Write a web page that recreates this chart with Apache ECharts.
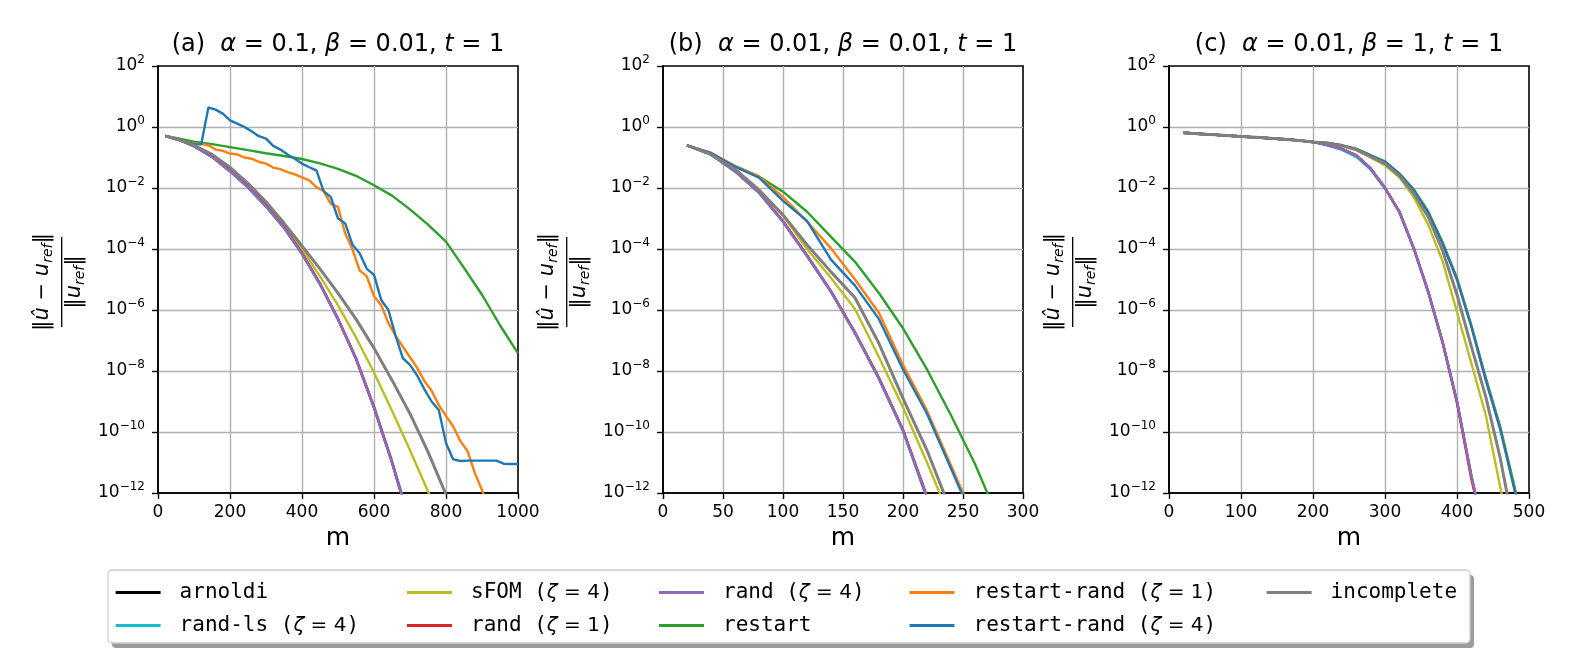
<!DOCTYPE html>
<html><head><meta charset="utf-8">
<script src="https://cdn.jsdelivr.net/npm/echarts@6/dist/echarts.min.js"></script>
<style>html,body{margin:0;padding:0;background:#fff}#c{width:1578px;height:658px}</style>
</head><body><div id="c"></div>
<script>
// ---------- data (y values are log10 of the relative error) ----------
const names = ['arnoldi','rand-ls (ζ=4)','sFOM (ζ=4)','rand (ζ=1)','rand (ζ=4)','restart','restart-rand (ζ=1)','restart-rand (ζ=4)','incomplete'];
const colors = ['#000000','#17becf','#bcbd22','#d62728','#9467bd','#2ca02c','#ff7f0e','#1f77b4','#7f7f7f'];
const titles = [['(a)','0.1','0.01'],['(b)','0.01','0.01'],['(c)','0.01','1']];
const xMax = [1000,300,500];
const xStep = [200,50,100];
const yExpTicks = [-12,-10,-8,-6,-4,-2,0,2];

// panel (a)
const mA = [20,60,100,150,200,250,300,350,400,450,500,550,600,650,700,750,800,850,900,950,1000];
const mA20 = [20,40,60,80,100,120,140,160,180,200,220,240,260,280,300,320,340,360,380,400,420,440,460,480,500,520,540,560,580,600,620,640,660,680,700,720,740,760,780,800,820,840,860,880,900,920,940,960,980,1000];
const a_arnoldi = [-0.29,-0.43,-0.63,-0.98,-1.45,-1.98,-2.6,-3.3,-4.15,-5.15,-6.3,-7.6,-9.2,-11.0,-13.0];
const a_randls  = [-0.29,-0.43,-0.63,-0.98,-1.45,-1.99,-2.61,-3.31,-4.16,-5.16,-6.3,-7.59,-9.17,-10.95,-12.9];
const a_sfom    = [-0.29,-0.42,-0.61,-0.93,-1.38,-1.92,-2.52,-3.22,-4.0,-4.9,-5.85,-6.9,-8.05,-9.3,-10.6,-11.95,-13.35];
const a_rand1   = [-0.29,-0.43,-0.62,-0.95,-1.42,-1.95,-2.57,-3.28,-4.13,-5.13,-6.28,-7.58,-9.18,-10.98,-13.0];
const a_rand4   = [-0.29,-0.43,-0.63,-0.98,-1.45,-1.98,-2.6,-3.3,-4.15,-5.15,-6.3,-7.6,-9.2,-11.0,-13.0];
const a_restart = [-0.29,-0.38,-0.48,-0.56,-0.66,-0.76,-0.86,-0.95,-1.05,-1.19,-1.37,-1.6,-1.91,-2.25,-2.7,-3.2,-3.76,-4.62,-5.5,-6.5,-7.42];
const a_rr1 = [-0.29,-0.37,-0.44,-0.5,-0.54,-0.56,-0.6,-0.74,-0.78,-0.87,-0.9,-1.0,-1.04,-1.14,-1.2,-1.33,-1.38,-1.48,-1.55,-1.65,-1.75,-1.97,-2.1,-2.52,-2.62,-3.49,-4.0,-4.7,-4.9,-5.55,-5.84,-6.43,-6.85,-7.2,-7.55,-7.9,-8.33,-8.65,-9.12,-9.47,-9.82,-10.3,-10.63,-11.34,-11.9,-12.6];
const a_rr4 = [-0.29,-0.36,-0.43,-0.5,-0.56,-0.57,0.64,0.57,0.44,0.22,0.11,0.0,-0.14,-0.3,-0.38,-0.62,-0.74,-0.9,-1.04,-1.2,-1.32,-1.42,-2.1,-2.3,-3.0,-3.16,-3.85,-4.14,-4.65,-4.85,-5.67,-6.0,-6.85,-7.58,-7.8,-8.15,-8.6,-9.0,-9.28,-10.36,-10.9,-10.95,-10.94,-10.94,-10.94,-10.94,-10.94,-11.04,-11.05,-11.05];
const a_incomplete = [-0.29,-0.42,-0.6,-0.9,-1.32,-1.85,-2.45,-3.15,-3.9,-4.65,-5.45,-6.3,-7.25,-8.3,-9.4,-10.65,-12.05];

// panel (b)
const mB = [20,40,60,80,100,120,140,160,180,200,220,240,260,280];
const b_arnoldi = [-0.6,-0.9,-1.45,-2.15,-3.1,-4.22,-5.4,-6.75,-8.25,-9.95,-12.15];
const b_randls  = [-0.6,-0.9,-1.45,-2.16,-3.11,-4.23,-5.41,-6.76,-8.26,-9.97,-12.2];
const b_sfom    = [-0.6,-0.9,-1.38,-2.05,-2.9,-4.0,-4.95,-5.97,-7.55,-9.2,-11.0,-12.9];
const b_rand1   = [-0.6,-0.9,-1.44,-2.14,-3.08,-4.2,-5.38,-6.73,-8.22,-9.92,-12.1];
const b_rand4   = [-0.6,-0.9,-1.45,-2.15,-3.1,-4.22,-5.4,-6.75,-8.25,-9.95,-12.15];
const b_restart = [-0.6,-0.9,-1.28,-1.62,-2.12,-2.78,-3.6,-4.42,-5.45,-6.6,-7.95,-9.45,-11.05,-12.9];
const b_rr1 = [-0.6,-0.85,-1.28,-1.62,-2.3,-3.1,-3.98,-5.0,-6.1,-7.8,-9.3,-11.1,-12.9];
const b_rr4 = [-0.6,-0.85,-1.3,-1.66,-2.42,-3.08,-4.35,-5.2,-6.3,-7.95,-9.4,-11.2,-13.0];
const b_incomplete = [-0.6,-0.9,-1.38,-2.07,-2.88,-3.86,-4.75,-5.6,-7.1,-8.9,-10.6,-12.6];

// panel (c)
const mC = [20,40,60,80,100,120,140,160,180,200,220,240,260,280,300,320,340,360,380,400,420,440,460,480,500];
const c_arnoldi = [-0.19,-0.22,-0.25,-0.28,-0.31,-0.34,-0.37,-0.40,-0.44,-0.49,-0.59,-0.72,-0.93,-1.36,-2.0,-2.78,-3.98,-5.4,-7.05,-9.0,-11.45,-13.5];
const c_randls  = [-0.19,-0.22,-0.25,-0.28,-0.31,-0.34,-0.37,-0.40,-0.44,-0.49,-0.6,-0.75,-0.98,-1.4,-2.02,-2.8,-3.99,-5.41,-7.06,-9.01,-11.46,-13.5];
const c_sfom    = [-0.19,-0.22,-0.25,-0.28,-0.31,-0.34,-0.37,-0.40,-0.44,-0.49,-0.53,-0.62,-0.76,-1.0,-1.26,-1.65,-2.3,-3.2,-4.4,-6.07,-7.75,-9.45,-11.8,-14.0];
const c_rand1   = [-0.19,-0.22,-0.25,-0.28,-0.31,-0.34,-0.37,-0.40,-0.44,-0.49,-0.59,-0.72,-0.93,-1.36,-2.0,-2.78,-3.98,-5.4,-7.07,-9.05,-11.55,-13.6];
const c_rand4   = [-0.19,-0.22,-0.25,-0.28,-0.31,-0.34,-0.37,-0.40,-0.44,-0.49,-0.59,-0.72,-0.93,-1.36,-2.0,-2.78,-3.98,-5.4,-7.05,-9.0,-11.45,-13.5];
const c_restart = [-0.19,-0.22,-0.25,-0.28,-0.31,-0.34,-0.37,-0.40,-0.44,-0.49,-0.52,-0.6,-0.72,-0.93,-1.13,-1.52,-2.05,-2.77,-3.78,-4.95,-6.5,-8.22,-9.82,-11.8,-13.9];
const c_rr1 = [-0.19,-0.22,-0.25,-0.28,-0.31,-0.34,-0.37,-0.40,-0.44,-0.49,-0.52,-0.6,-0.72,-0.93,-1.14,-1.54,-2.07,-2.8,-3.82,-5.0,-6.55,-8.3,-9.9,-11.9,-14.0];
const c_rr4 = [-0.19,-0.22,-0.25,-0.28,-0.31,-0.34,-0.37,-0.40,-0.44,-0.49,-0.52,-0.6,-0.72,-0.93,-1.14,-1.54,-2.07,-2.8,-3.82,-5.0,-6.55,-8.3,-9.9,-11.9,-14.0];
const c_incomplete = [-0.19,-0.22,-0.25,-0.28,-0.31,-0.34,-0.37,-0.40,-0.44,-0.49,-0.53,-0.61,-0.74,-0.97,-1.2,-1.6,-2.18,-2.95,-4.05,-5.5,-7.2,-8.85,-10.85,-13.3];

const panelSeries = [
  [[mA,a_arnoldi],[mA,a_randls],[mA,a_sfom],[mA,a_rand1],[mA,a_rand4],[mA,a_restart],[mA20,a_rr1],[mA20,a_rr4],[mA,a_incomplete]],
  [[mB,b_arnoldi],[mB,b_randls],[mB,b_sfom],[mB,b_rand1],[mB,b_rand4],[mB,b_restart],[mB,b_rr1],[mB,b_rr4],[mB,b_incomplete]],
  [[mC,c_arnoldi],[mC,c_randls],[mC,c_sfom],[mC,c_rand1],[mC,c_rand4],[mC,c_restart],[mC,c_rr1],[mC,c_rr4],[mC,c_incomplete]]
];

// ---------- layout ----------
const FONT = 'DejaVu Sans';
const MONO = 'DejaVu Sans Mono';
const gridLeft = [158, 663, 1169];
const gridTop = 66, gridW = 360, gridH = 427;

const chart = echarts.init(document.getElementById('c'));

const grids = gridLeft.map(l => ({left: l, top: gridTop, width: gridW, height: gridH,
  show: true, borderColor: '#000', borderWidth: 1.6, backgroundColor: 'transparent', containLabel: false}));

const xAxes = gridLeft.map((l, p) => ({
  type: 'value', gridIndex: p, min: 0, max: xMax[p], interval: xStep[p],
  name: 'm', nameLocation: 'middle', nameGap: 33,
  nameTextStyle: {fontFamily: FONT, fontSize: 25, color: '#000'},
  axisLine: {show: true, lineStyle: {color: '#000', width: 1.6}},
  axisTick: {show: true, length: 6, lineStyle: {color: '#000', width: 1.4}},
  axisLabel: {fontFamily: FONT, fontSize: 17, color: '#000', margin: 11, formatter: v => String(v)},
  splitLine: {show: true, showMinLine: false, showMaxLine: false, lineStyle: {color: '#b0b0b0', width: 1.4}}
}));

const yAxes = gridLeft.map((l, p) => ({
  type: 'log', logBase: 10, gridIndex: p, min: Math.pow(10, yExpTicks[0]), max: Math.pow(10, yExpTicks[yExpTicks.length-1]), interval: 2,
  axisLine: {show: true, lineStyle: {color: '#000', width: 1.6}},
  axisTick: {show: true, length: 6, lineStyle: {color: '#000', width: 1.4}},
  minorTick: {show: false},
  axisLabel: {
    margin: 13,
    formatter: v => { const e = Math.round(Math.log10(v)); return '{b|10}{s|' + (e < 0 ? '\u2212' + (-e) : e) + '}'; },
    rich: {
      b: {fontFamily: FONT, fontSize: 17, color: '#000', lineHeight: 24},
      s: {fontFamily: FONT, fontSize: 12, color: '#000', lineHeight: 16, verticalAlign: 'top'}
    }
  },
  splitLine: {show: true, showMinLine: false, showMaxLine: false, lineStyle: {color: '#b0b0b0', width: 1.4}}
}));

const series = [];
panelSeries.forEach((list, p) => {
  list.forEach((pair, k) => {
    const m = pair[0], ys = pair[1];
    series.push({
      type: 'line', name: names[k], xAxisIndex: p, yAxisIndex: p,
      data: ys.map((v, i) => [m[i], Math.pow(10, v)]),
      symbol: 'none', showSymbol: false, color: colors[k], clip: true,
      lineStyle: {color: colors[k], width: k === 8 ? 3 : 2.4},
      z: 2 + k, animation: false, silent: true
    });
  });
});

// legend
const legendCols = [[0,1],[2,3],[4,5],[6,7],[8]];
const legendLeft = [115.6, 407, 659, 909.5, 1266.6];
const legendFmt = name => {
  const k = name.indexOf('(ζ=');
  if (k < 0) return '{m|' + name + '}';
  return '{m|' + name.slice(0, k + 1) + '}{z|ζ}{s| = ' + name.charAt(k + 3) + '}{m|)}';
};
const legends = legendCols.map((c, i) => ({
  data: c.map(k => ({name: names[k], icon: 'rect'})),
  orient: 'vertical', left: legendLeft[i], top: 582,
  itemWidth: 45, itemHeight: 3, itemGap: 12, padding: 0, selectedMode: false,
  formatter: legendFmt,
  textStyle: {
    padding: [0, 0, 0, 14], color: '#000', fontFamily: MONO, fontSize: 21,
    rich: {
      m: {fontFamily: MONO, fontSize: 21, lineHeight: 21, color: '#000'},
      z: {fontFamily: FONT, fontStyle: 'italic', fontSize: 20, lineHeight: 21, color: '#000'},
      s: {fontFamily: FONT, fontSize: 20, lineHeight: 21, color: '#000'}
    }
  }
}));

// graphics: titles, y-axis labels, legend frame
const graphics = [];
graphics.push({type: 'rect', z: 0, shape: {x: 112, y: 575, width: 1362, height: 73, r: 4}, style: {fill: '#9c9c9c'}, silent: true});
graphics.push({type: 'rect', z: 1, shape: {x: 108, y: 570, width: 1362, height: 73, r: 4}, style: {fill: '#fff', stroke: '#cccccc', lineWidth: 1.3}, silent: true});
const titleRich = {
  n: {fontFamily: FONT, fontSize: 24, fill: '#000'},
  i: {fontFamily: FONT, fontSize: 24, fontStyle: 'italic', fill: '#000'}
};
const labRich = {
  n: {fontFamily: FONT, fontSize: 21, lineHeight: 26, fill: '#000'},
  i: {fontFamily: FONT, fontSize: 21, fontStyle: 'italic', lineHeight: 26, fill: '#000'},
  sub: {fontFamily: FONT, fontSize: 14, fontStyle: 'italic', lineHeight: 14, verticalAlign: 'bottom', fill: '#000'}
};
gridLeft.forEach((l, p) => {
  const t = titles[p];
  graphics.push({type: 'text', z: 5, x: l + gridW / 2, y: 45, silent: true,
    style: {text: '{n|' + t[0] + '  }{i|α}{n| = ' + t[1] + ', }{i|β}{n| = ' + t[2] + ', }{i|t}{n| = 1}',
      rich: titleRich, align: 'center', verticalAlign: 'middle'}});
  graphics.push({type: 'group', x: l - 96.3, y: 282, rotation: Math.PI / 2, silent: true, children: [
    {type: 'text', x: 0, y: -19, style: {text: '{n|‖}{i|û}{n| − }{i|u}{sub|ref}{n|‖}', rich: labRich, align: 'center', verticalAlign: 'middle'}},
    {type: 'line', shape: {x1: -45, y1: 0, x2: 45, y2: 0}, style: {stroke: '#000', lineWidth: 1.3}},
    {type: 'text', x: 0, y: 13, style: {text: '{n|‖}{i|u}{sub|ref}{n|‖}', rich: labRich, align: 'center', verticalAlign: 'middle'}}
  ]});
});

chart.setOption({
  animation: false,
  backgroundColor: '#fff',
  grid: grids, xAxis: xAxes, yAxis: yAxes, series: series,
  legend: legends,
  graphic: graphics
});
</script></body></html>
